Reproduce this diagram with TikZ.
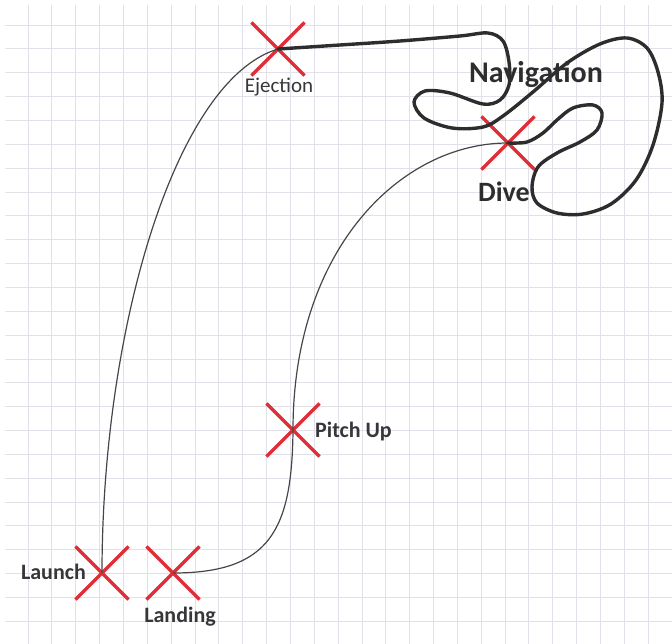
\documentclass[tikz,border=0pt]{standalone}
\usepackage{fontspec}
\setmainfont{Carlito}
\usetikzlibrary{shapes.misc,positioning}
\definecolor{xred}{RGB}{222,46,56}
\definecolor{gridgrey}{RGB}{226,224,232}
\definecolor{txtgrey}{RGB}{55,55,58}
\definecolor{pathgrey}{RGB}{70,70,70}
\definecolor{navblack}{RGB}{45,45,45}

\begin{document}
\begin{tikzpicture}[x=1pt,y=-1pt,
    xmark/.style={cross out,draw=xred,line width=3.2pt,minimum size=50pt,inner sep=0pt},
    lbl/.style={font=\fontsize{22}{26}\selectfont\bfseries,text=txtgrey,inner sep=0pt},
    biglbl/.style={font=\fontsize{28}{32}\selectfont\bfseries,text=navblack,inner sep=0pt},
    flight/.style={draw=pathgrey,line width=1.2pt},
    nav/.style={draw=navblack,line width=3.4pt,line cap=round,line join=round}]
  \useasboundingbox (0,0) rectangle (672,644);
  % grid paper
  \foreach \k in {0,...,27}
    \draw[gridgrey,line width=0.8pt] ({28+23.85*\k},5) -- ({28+23.85*\k},644);
  \foreach \k in {0,...,25}
    \draw[gridgrey,line width=0.8pt] (5,{25+23.85*\k}) -- (672,{25+23.85*\k});

  % events
  \node[xmark] (lau) at (102,573) {};
  \node[xmark] (lan) at (173,573) {};
  \node[xmark] (pit) at (293,430) {};
  \node[xmark] (ej) at (278,49) {};
  \node[xmark] (dv) at (508,143) {};

  \node[lbl,anchor=base east] (lautxt) at (86,579) {Launch};
  \node[lbl,anchor=base] (lantxt) at (180,622) {Landing};
  \node[lbl,anchor=base west] (pittxt) at (315,437) {Pitch Up};
  \node[lbl,font=\fontsize{21}{25}\selectfont,anchor=base] (ejtxt) at (279,93) {Ejection};
  \node[biglbl,font=\fontsize{30}{34}\selectfont\bfseries,anchor=base] (navtxt) at (536,83) {Navigation};
  \node[biglbl,anchor=base] (dvtxt) at (504,202) {Dive};

  % flight legs
  \draw[flight] (lau.center) .. controls (102,330) and (175,80) .. (ej.center);
  \draw[flight] (dv.center) .. controls (400,143) and (293,250) .. (pit.center)
    .. controls (292,530) and (270,573) .. (lan.center);

  % navigation wander
  \draw[nav] plot[smooth,tension=0.55] coordinates {(ej.center) (340,45) (400,41)
    (460,36) (488,33) (503,41) (509,62) (509,85) (500,100) (483,104) (450,93)
    (425,91) (414,102) (424,118) (452,128) (483,127) (503,116) (533,92) (567,63)
    (600,44) (627,38) (647,48) (658,72) (662,103) (653,145) (636,180) (611,204)
    (583,214) (557,213) (537,203) (532,187) (538,167) (557,153) (580,142)
    (597,130) (602,113) (593,105) (573,108) (557,120) (543,133) (527,142)
    (dv.center)};
\end{tikzpicture}
\end{document}
